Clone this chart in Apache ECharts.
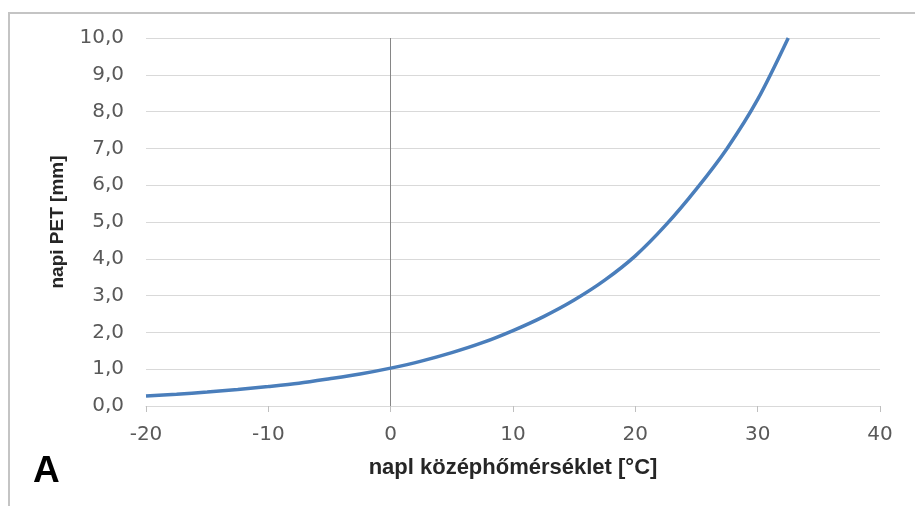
<!DOCTYPE html>
<html>
<head>
<meta charset="utf-8">
<script src="https://cdn.jsdelivr.net/npm/echarts@6/dist/echarts.min.js"></script>
<style>
html,body{margin:0;padding:0;background:#fff;}
#chart{width:915px;height:506px;}
</style>
</head>
<body>
<div id="chart"></div>
<script>
// Daily mean temperature [°C]
const temperatures = [-20, -17.5, -15, -12.5, -10, -7.5, -5, -2.5, 0, 2.5, 5, 7.5, 10, 12.5, 15, 17.5, 20, 22.5, 25, 27.5, 30, 32.5];
// Daily PET [mm]
const petValues = [0.27, 0.32, 0.38, 0.45, 0.53, 0.62, 0.74, 0.87, 1.03, 1.22, 1.45, 1.72, 2.05, 2.43, 2.88, 3.42, 4.08, 4.92, 5.9, 7.0, 8.33, 10.0];
const xTickLabels = ['-20', '-10', '0', '10', '20', '30', '40'];
const yTickLabels = ['0,0', '1,0', '2,0', '3,0', '4,0', '5,0', '6,0', '7,0', '8,0', '9,0', '10,0'];
const xTitle = 'napl középhőmérséklet [°C]';
const yTitle = 'napi PET [mm]';
const panelLabel = 'A';

const chart = echarts.init(document.getElementById('chart'), null, {renderer: 'canvas'});
const seriesData = temperatures.map((t, i) => [t, petValues[i]]);

chart.setOption({
  animation: false,
  backgroundColor: '#ffffff',
  grid: {left: 146, right: 35, top: 38, bottom: 100},
  graphic: [
    {type: 'rect', shape: {x: 9, y: 13, width: 1000, height: 600},
     style: {fill: 'none', stroke: '#c4c4c4', lineWidth: 2}, silent: true, z: 0},
    {type: 'text', left: 33, top: 453,
     style: {text: panelLabel, font: 'bold 37px "Liberation Sans", Arial, sans-serif', fill: '#000000'}}
  ],
  xAxis: {
    type: 'value', min: -20, max: 40, interval: 10,
    name: xTitle, nameLocation: 'middle', nameGap: 51,
    nameTextStyle: {fontFamily: '"Liberation Sans", Arial, sans-serif', fontWeight: 'bold', fontSize: 22, color: '#262626'},
    axisLine: {show: true, onZero: false, lineStyle: {color: '#d9d9d9', width: 1}},
    axisTick: {show: true, length: 6, lineStyle: {color: '#bfbfbf'}},
    axisLabel: {margin: 19, fontFamily: '"DejaVu Sans", Verdana, sans-serif', fontSize: 20, color: '#595959',
      formatter: (v) => { const i = Math.round((v + 20) / 10); return xTickLabels[i] !== undefined ? xTickLabels[i] : ''; }},
    splitLine: {show: false}
  },
  yAxis: {
    type: 'value', min: 0, max: 10, interval: 1,
    name: yTitle, nameLocation: 'middle', nameGap: 79, nameRotate: 90,
    nameTextStyle: {fontFamily: '"Liberation Sans", Arial, sans-serif', fontWeight: 'bold', fontSize: 19, color: '#262626'},
    axisLine: {show: false},
    axisTick: {show: false},
    axisLabel: {margin: 22, fontFamily: '"DejaVu Sans", Verdana, sans-serif', fontSize: 20, color: '#595959',
      formatter: (v) => { const i = Math.round(v); return yTickLabels[i] !== undefined ? yTickLabels[i] : ''; }},
    splitLine: {show: true, lineStyle: {color: '#d9d9d9', width: 1}}
  },
  series: [{
    type: 'line',
    data: seriesData,
    smooth: 0.3,
    showSymbol: false,
    lineStyle: {color: '#4a7ebb', width: 3.5},
    z: 3,
    markLine: {
      silent: true, symbol: ['none', 'none'], label: {show: false},
      lineStyle: {color: '#868686', width: 1, type: 'solid'},
      data: [{xAxis: 0}],
      z: 2
    }
  }]
});
</script>
</body>
</html>
